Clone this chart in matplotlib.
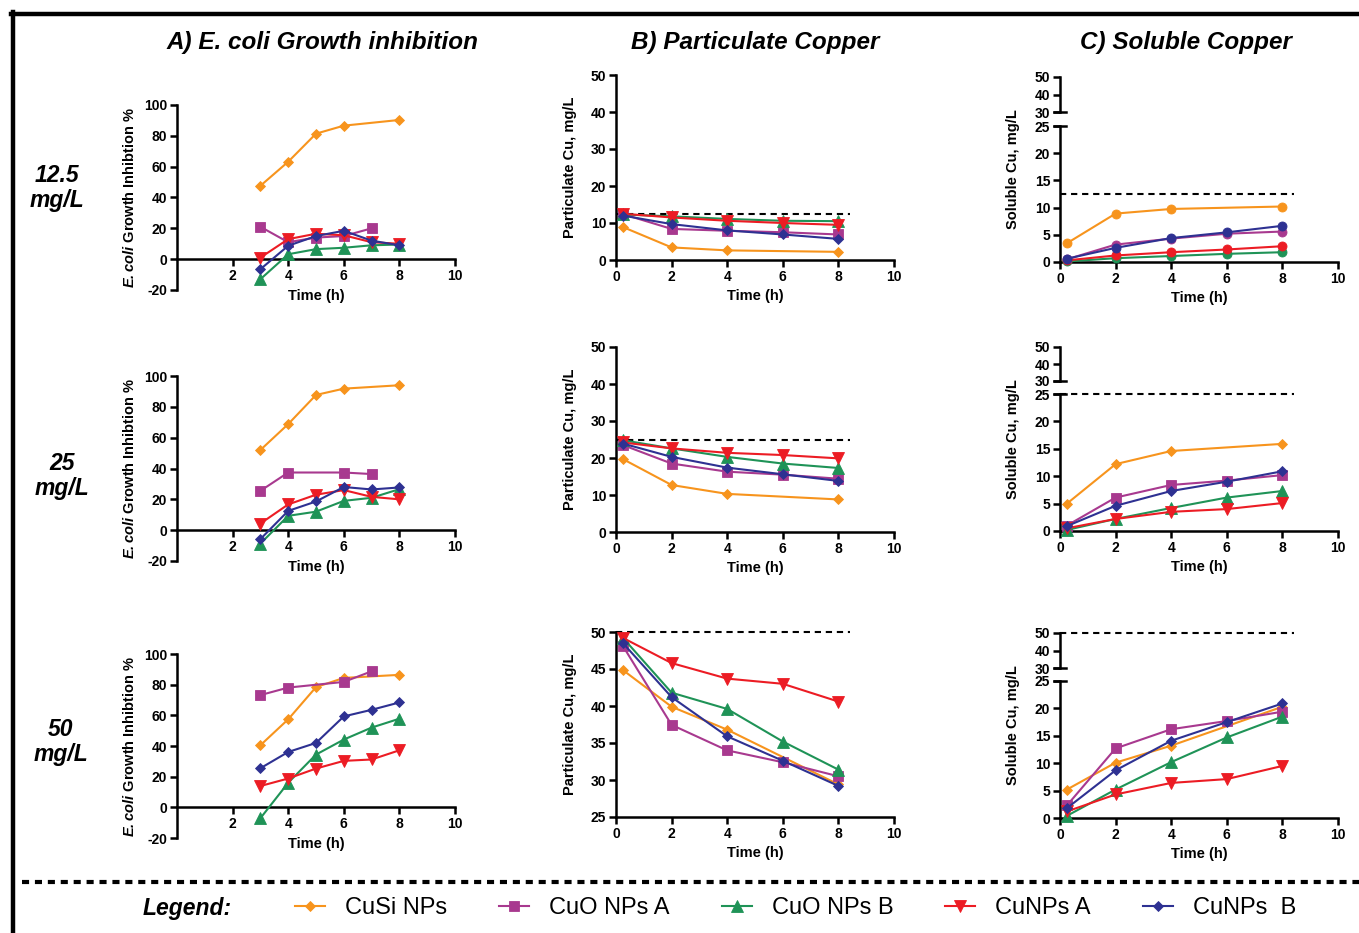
import matplotlib
matplotlib.use('Agg')
import matplotlib.pyplot as plt
from matplotlib.lines import Line2D

plt.rcParams['font.family'] = ['Liberation Sans', 'DejaVu Sans']
plt.rcParams['font.weight'] = 'bold'
plt.rcParams['axes.unicode_minus'] = False
plt.rcParams['mathtext.fontset'] = 'custom'
plt.rcParams['mathtext.rm'] = 'Liberation Sans:bold'
plt.rcParams['mathtext.it'] = 'Liberation Sans:italic'
plt.rcParams['mathtext.bf'] = 'Liberation Sans:bold'
plt.rcParams['mathtext.bfit'] = 'Liberation Sans:italic:bold'

# ---------------- data ----------------
series = ['CuSi NPs', 'CuO NPs A', 'CuO NPs B', 'CuNPs A', 'CuNPs  B']
doses = ['12.5\nmg/L', '25\nmg/L', '50\nmg/L']
nominal = [12.5, 25, 50]
nominal_end = 8.4

# Panel A: E. coli growth inhibition (%)
t_inh_all = [3, 4, 5, 6, 7, 8]
t_inh_cusi = [3, 4, 5, 6, 8]
t_inh_cuoa_12 = [3, 4, 5, 6, 7]
t_inh_cuoa = [3, 4, 6, 7]

inh_12 = {
    'CuSi NPs': [47.6, 63.2, 81.4, 86.6, 90.3],
    'CuO NPs A': [21, 11, 14, 15, 20],
    'CuO NPs B': [-13, 3.2, 6.5, 7.4, 9, 9.5],
    'CuNPs A': [1, 13, 16.5, 15.5, 11, 10],
    'CuNPs  B': [-6.5, 8.7, 15, 18.4, 12, 9],
}
inh_25 = {
    'CuSi NPs': [52, 68.8, 87.7, 91.8, 94],
    'CuO NPs A': [25.5, 37.4, 37.4, 36.4],
    'CuO NPs B': [-8.7, 9.3, 12, 19, 21, 26.6],
    'CuNPs A': [4.3, 16.7, 23, 26, 21.6, 20],
    'CuNPs  B': [-5.8, 12.5, 18.6, 28, 26.4, 27.7],
}
inh_50 = {
    'CuSi NPs': [40.5, 57.4, 78.4, 84.4, 86.4],
    'CuO NPs A': [73.2, 78.1, 81.8, 88.7],
    'CuO NPs B': [-7.1, 16, 34.4, 44.2, 52, 57.8],
    'CuNPs A': [13.9, 18.8, 25.3, 30.3, 31.2, 37.2],
    'CuNPs  B': [25.5, 36.1, 42, 59.3, 63.6, 68.4],
}

# Panels B and C: copper (mg/L)
t_cu_all = [0.25, 2, 4, 6, 8]
t_cu_cusi = [0.25, 2, 4, 8]

part_12 = {
    'CuSi NPs': [8.9, 3.4, 2.6, 2.2],
    'CuO NPs A': [12.4, 8.4, 7.9, 7.5, 6.9],
    'CuO NPs B': [12.3, 11.8, 11.1, 10.6, 10.5],
    'CuNPs A': [12.5, 11.5, 10.6, 10, 9.5],
    'CuNPs  B': [12, 9.7, 8, 6.9, 5.7],
}
part_25 = {
    'CuSi NPs': [19.7, 12.7, 10.3, 8.8],
    'CuO NPs A': [23.5, 18.5, 16.3, 15.5, 14.4],
    'CuO NPs B': [24.8, 22.6, 20.3, 18.5, 17.3],
    'CuNPs A': [24.2, 22.6, 21.4, 20.8, 19.9],
    'CuNPs  B': [23.9, 20.3, 17.4, 15.6, 13.8],
}
part_50 = {
    'CuSi NPs': [44.85, 39.9, 36.8, 29.4],
    'CuO NPs A': [48.1, 37.45, 34, 32.4, 30.5],
    'CuO NPs B': [49.2, 41.8, 39.6, 35.2, 31.4],
    'CuNPs A': [49.2, 45.8, 43.7, 43, 40.6],
    'CuNPs  B': [48.5, 41.2, 35.9, 32.6, 29.2],
}

sol_12 = {
    'CuSi NPs': [3.45, 8.9, 9.75, 10.2],
    'CuO NPs A': [0.5, 3.2, 4.3, 5.2, 5.6],
    'CuO NPs B': [0.1, 0.7, 1.1, 1.5, 1.8],
    'CuNPs A': [0.3, 1.2, 1.8, 2.3, 2.9],
    'CuNPs  B': [0.6, 2.6, 4.4, 5.45, 6.65],
}
sol_25 = {
    'CuSi NPs': [5, 12.2, 14.6, 15.9],
    'CuO NPs A': [1, 6.1, 8.4, 9.2, 10.2],
    'CuO NPs B': [0.2, 2.2, 4.2, 6.1, 7.3],
    'CuNPs A': [0.5, 2.2, 3.5, 4, 5.1],
    'CuNPs  B': [0.9, 4.6, 7.3, 9, 10.9],
}
sol_50 = {
    'CuSi NPs': [5.2, 10.1, 13.2, 20.3],
    'CuO NPs A': [2.3, 12.7, 16.2, 17.7, 19.4],
    'CuO NPs B': [0.4, 5.2, 10.2, 14.7, 18.5],
    'CuNPs A': [1.2, 4.3, 6.4, 7.1, 9.5],
    'CuNPs  B': [1.8, 8.7, 14.1, 17.5, 20.9],
}

# ---------------- styles ----------------
colors = ['#F7941D', '#A8398F', '#1F9357', '#EC1C24', '#2E3192']
markers = ['D', 's', '^', 'v', 'D']
msizes = [4.6, 7, 8, 8, 5.6]

W, H = 1359, 933
fig = plt.figure(figsize=(W / 100, H / 100), dpi=100)
PT = 0.72  # px -> pt


def px_axes(l, r, t, b):
    return fig.add_axes([l / W, 1 - b / H, (r - l) / W, (b - t) / H])


def style(ax, fs=10):
    for s in ['top', 'right']:
        ax.spines[s].set_visible(False)
    for s in ['left', 'bottom']:
        ax.spines[s].set_linewidth(1.8)
    ax.tick_params(direction='out', width=1.8, length=5, labelsize=fs, pad=2)
    ax.patch.set_alpha(0)


def plot_series(ax, times, data, round_markers=False):
    handles = []
    for i, name in enumerate(series):
        t = times[i]
        mk = 'o' if round_markers else markers[i]
        ms = 6.5 if round_markers else msizes[i]
        h, = ax.plot(t, data[name], color=colors[i], lw=1.5, marker=mk,
                     markersize=ms, markeredgewidth=0.6,
                     markeredgecolor=colors[i], clip_on=False, zorder=3 + i)
        handles.append(h)
    return handles


def xlabel(ax, dy_px):
    ax.annotate('Time (h)', xy=(0.5, 0), xycoords='axes fraction',
                xytext=(0, -dy_px * PT), textcoords='offset points',
                ha='center', va='center', fontsize=10.5, fontweight='bold')


def ylabel(x_px, yc_px, text):
    fig.text(x_px / W, 1 - yc_px / H, text, rotation=90, ha='center',
             va='center', fontsize=10.5, fontweight='bold')


# rows pixel geometry
A_rows = [(105, 290), (376, 561), (654, 838)]
B_rows = [(75, 260), (347, 532), (632, 817)]
C_rows = [((77, 112), (126, 262)), ((347, 381), (394, 531)),
          ((633, 668), (681, 818))]
inh_data = [inh_12, inh_25, inh_50]
part_data = [part_12, part_25, part_50]
sol_data = [sol_12, sol_25, sol_50]
inh_times = [
    [t_inh_cusi, t_inh_cuoa_12, t_inh_all, t_inh_all, t_inh_all],
    [t_inh_cusi, t_inh_cuoa, t_inh_all, t_inh_all, t_inh_all],
    [t_inh_cusi, t_inh_cuoa, t_inh_all, t_inh_all, t_inh_all],
]
cu_times = [t_cu_cusi, t_cu_all, t_cu_all, t_cu_all, t_cu_all]

legend_handles = None
for r in range(3):
    # ---- Panel A ----
    t, b = A_rows[r]
    ax = px_axes(177, 455, t, b)
    style(ax, 10)
    ax.set_xlim(0, 10)
    ax.set_ylim(-20, 100)
    ax.spines['bottom'].set_position(('data', 0))
    ax.set_xticks([2, 4, 6, 8, 10])
    ax.set_yticks(range(-20, 101, 20))
    plot_series(ax, inh_times[r], inh_data[r])
    xlabel(ax, 6)
    ylabel(130, (t + b) / 2, r'$\mathbfit{E{.}coli}$ Growth Inhibtion %')

    # ---- Panel B ----
    t, b = B_rows[r]
    ax = px_axes(616, 894, t, b)
    style(ax, 10)
    ax.set_xlim(0, 10)
    ax.set_xticks(range(0, 11, 2))
    if r < 2:
        ax.set_ylim(0, 50)
        ax.set_yticks(range(0, 51, 10))
    else:
        ax.set_ylim(25, 50)
        ax.set_yticks(range(25, 51, 5))
    hs = plot_series(ax, cu_times, part_data[r])
    if r == 2:
        legend_handles = hs
    ax.plot([0, nominal_end], [nominal[r], nominal[r]], color='black',
            lw=1.5, ls=(0, (3, 2.3)), clip_on=False, zorder=2)
    xlabel(ax, 36)
    ylabel(570, (t + b) / 2, 'Particulate Cu, mg/L')

    # ---- Panel C (broken axis) ----
    (ut, ub), (lt, lb) = C_rows[r]
    axu = px_axes(1060, 1338, ut, ub)
    axl = px_axes(1060, 1338, lt, lb)
    for a in (axu, axl):
        style(a, 10)
        a.set_xlim(0, 10)
    axu.spines['bottom'].set_visible(False)
    axu.tick_params(axis='x', bottom=False, labelbottom=False)
    axu.set_ylim(30, 50)
    axu.set_yticks([30, 40, 50])
    axl.set_ylim(0, 25)
    axl.set_yticks(range(0, 26, 5))
    axl.set_xticks(range(0, 11, 2))
    plot_series(axl, cu_times, sol_data[r], round_markers=(r == 0))
    # break marks
    axu.plot([-0.022, 0.022], [0, 0], transform=axu.transAxes, color='black',
             lw=1.8, clip_on=False)
    axl.plot([-0.022, 0.022], [1, 1], transform=axl.transAxes, color='black',
             lw=1.8, clip_on=False)
    target = axu if nominal[r] > 25 else axl
    target.plot([0, nominal_end], [nominal[r], nominal[r]], color='black',
                lw=1.5, ls=(0, (3, 2.3)), clip_on=False, zorder=2)
    xlabel(axl, 36)
    ylabel(1013, (ut + lb) / 2, 'Soluble Cu, mg/L')

# ---------------- titles and row labels ----------------
titles = ['A) E. coli Growth inhibition', 'B) Particulate Copper',
          'C) Soluble Copper']
title_x = [323, 755, 1186]
for tx, tt in zip(title_x, titles):
    fig.text(tx / W, 1 - 42 / H, tt, ha='center', va='center', fontsize=17.5,
             fontweight='bold', fontstyle='italic')

row_label_pos = [(57, 188), (62, 476), (61, 742)]
for (x, y), lab in zip(row_label_pos, doses):
    fig.text(x / W, 1 - y / H, lab, ha='center', va='center', fontsize=16.5,
             fontweight='bold', fontstyle='italic', linespacing=1.15)

# ---------------- frame and separator ----------------
fig.add_artist(Line2D([11 / W, 1], [1 - 14 / H, 1 - 14 / H], color='black',
                      lw=3.2, transform=fig.transFigure))
fig.add_artist(Line2D([13 / W, 13 / W], [0, 1 - 12 / H], color='black',
                      lw=3.2, transform=fig.transFigure))
fig.add_artist(Line2D([22 / W, 1], [1 - 882 / H, 1 - 882 / H], color='black',
                      lw=3.0, ls=(0, (1.7, 1.4)), transform=fig.transFigure))

# ---------------- legend ----------------
fig.text(143 / W, 1 - 908 / H, 'Legend:', ha='left', va='center',
         fontsize=16.5, fontweight='bold', fontstyle='italic')
fig.legend(legend_handles, series, loc='center left',
           bbox_to_anchor=(295 / W, 1 - 908 / H), ncol=5, frameon=False,
           prop={'size': 17, 'weight': 'normal'}, handlelength=1.27,
           handletextpad=0.85, columnspacing=2.2, borderpad=0,
           borderaxespad=0)

fig.savefig('out.png', dpi=100)
